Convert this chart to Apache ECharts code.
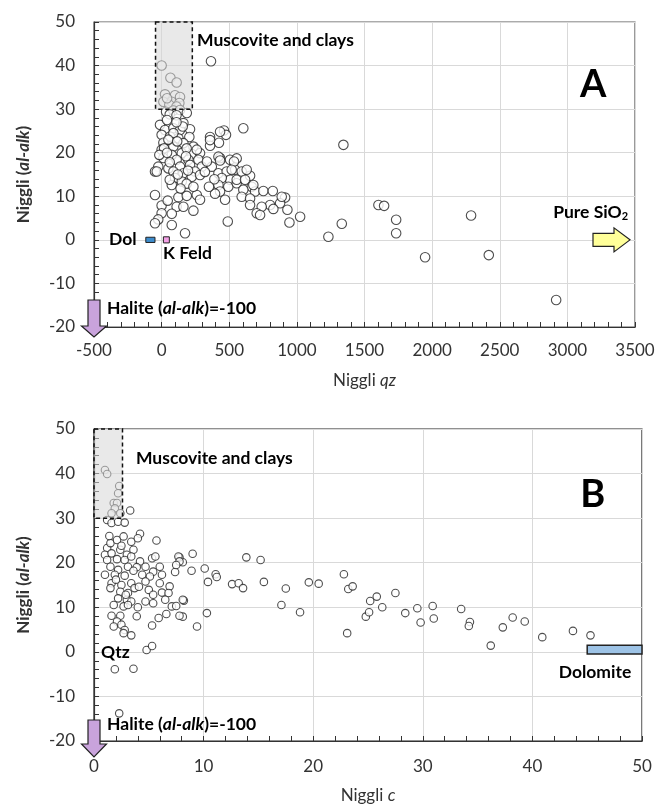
<!DOCTYPE html>
<html>
<head>
<meta charset="utf-8">
<script src="https://cdn.jsdelivr.net/npm/echarts@6/dist/echarts.min.js"></script>
<style>html,body{margin:0;padding:0;background:#fff}#c{width:658px;height:810px}</style>
</head>
<body>
<div id="c"></div>
<script>
// ---------- DATA ----------
// Panel A: Niggli qz vs Niggli (al-alk)
const pointsA = [
[1344,21.8],[1603,8.0],[1645,7.8],[1734,4.6],[1734,1.5],[1948,-4.0],[2288,5.6],[2419,-3.5],[2917,-13.8],[1332,3.7],[1233,0.7],
[365,41.0],[0,40.0],[65,37.2],[111,36.1],
[25,33.4],[99,33.2],[136,32.8],[13,31.7],[75,31.7],[131,31.4],[57,31.0],[40,32.5],[110,30.6],
[33,29.4],[87,29.7],[136,29.8],[186,29.1],[60,28.8],[110,28.6],
[-12,26.4],[25,25.2],[87,25.6],[136,25.2],[161,26.8],[210,25.4],[0,24.1],[62,23.7],[124,23.3],[205,23.6],[156,26.0],[87,24.5],
[358,23.6],[461,25.1],[424,22.3],[358,21.6],[604,25.6],[358,22.9],[476,24.1],[432,24.8],
[13,22.3],[87,21.4],[161,22.2],[235,21.4],[0,20.7],[75,19.5],[149,19.9],[223,19.7],[284,19.9],[13,18.8],[111,18.4],[198,18.4],[272,18.4],[432,18.8],[506,18.4],[18,21.0],[-17,19.5],[260,20.7],
[-25,16.8],[50,16.4],[136,16.8],[210,17.2],[297,16.8],[371,16.8],[-49,15.7],[87,15.7],[161,15.3],[247,15.7],[420,15.3],[481,15.7],[543,16.1],[506,13.8],[445,14.2],[223,14.5],[284,14.9],[99,14.2],[-36,15.7],[420,19.1],[432,18.2],
[75,12.6],[149,13.4],[420,12.6],[493,12.2],[555,13.0],[432,11.1],[-49,10.3],[124,9.8],[186,10.1],[260,10.3],[469,9.2],[284,9.2],
[0,7.9],[111,7.6],[161,7.6],[235,6.7],[75,6.0],[0,6.1],[-25,4.7],[-49,3.8],[489,4.2],[75,3.4],[173,1.5],
[555,18.7],[535,18.0],[518,16.1],[592,15.7],[654,14.7],[555,13.8],[617,13.8],[666,12.2],[604,11.5],[691,11.1],[752,11.2],[822,11.2],[592,9.9],[654,9.5],[913,9.7],[876,8.4],[802,8.0],[740,7.6],[654,8.0],[826,7.1],[930,6.9],[703,6.1],[728,5.7],[1024,5.3],[945,4.0],[888,9.9],[629,16.1],[678,12.6],
[40,27.5],[110,27.0],[50,23.0],[115,22.6],[185,21.0],[40,20.0],[180,19.2],[60,17.8],[120,15.0],[195,15.9],[60,13.8],[185,12.9],[235,12.2],[320,15.6],[335,18.0],[390,13.9],[395,10.6],[350,12.2],[45,9.0],[140,11.8]
];
// Panel B: Niggli c vs Niggli (al-alk)
const pointsB = [
[22.8,17.4],[23.2,14.1],[23.6,14.7],[19.6,15.6],[20.5,15.3],[17.5,14.2],[17.1,10.5],[18.8,8.9],[23.1,4.2],[24.8,7.9],[25.1,8.9],[25.2,11.4],[25.8,12.4],[26.3,10.0],[27.5,13.2],[28.4,8.7],[29.5,9.8],[29.8,6.6],[30.9,10.3],[31.0,7.5],[33.5,9.6],[34.3,6.7],[34.2,5.8],[36.2,1.4],[37.3,5.5],[38.2,7.7],[39.3,6.8],[40.9,3.3],[43.7,4.7],[45.3,3.7],
[9.0,22.0],[8.1,20.1],[7.8,21.2],[8.9,18.2],[10.1,18.7],[10.4,15.7],[11.1,17.4],[11.2,16.8],[13.9,21.2],[15.2,20.6],[12.6,15.2],[13.2,15.4],[13.6,14.3],[15.5,15.7],[8.2,11.5],[8.1,7.9],[10.3,8.7],[9.4,5.7],
[1.0,40.8],[1.2,39.9],[2.3,37.2],[2.2,35.6],[1.8,33.4],[2.1,33.4],[1.9,32.2],[1.6,31.1],[2.4,31.1],[3.3,31.7],[1.2,29.6],[1.6,28.9],[2.2,29.2],[2.8,29.0],
[1.2,23.3],[1.5,24.4],[2.1,25.1],[2.7,25.9],[3.4,24.7],[4.2,26.5],[4.0,25.5],[5.7,25.0],
[1.0,21.8],[1.6,22.1],[2.4,22.9],[3.0,21.8],[3.6,22.9],[1.2,20.6],[2.1,20.8],[2.8,20.6],[3.4,21.4],[4.2,20.3],[5.3,21.0],[5.6,21.4],
[1.5,19.1],[2.2,18.4],[3.1,19.1],[3.9,19.0],[4.7,19.1],[5.4,18.0],[6.0,19.1],[1.0,17.3],[1.9,17.3],[2.8,17.1],[4.4,17.3],[5.1,16.9],[6.2,17.3],[7.4,17.9],[7.7,21.4],[7.8,20.3],[7.5,19.5],
[1.6,15.4],[2.5,15.0],[3.4,15.4],[4.7,15.8],[6.0,15.4],[6.9,14.7],[1.5,14.3],[2.4,13.5],[3.1,13.2],[3.7,14.3],[5.0,13.9],[5.4,12.8],[6.2,13.3],[6.8,13.2],
[2.2,12.0],[3.0,11.7],[3.4,11.3],[4.7,11.3],[6.5,11.7],[1.8,10.5],[2.7,10.2],[3.1,10.5],[5.4,10.9],[7.1,10.2],[7.5,10.3],[8.1,11.7],
[1.6,8.1],[2.4,8.1],[2.1,6.8],[2.5,6.1],[1.8,5.7],[2.8,4.9],[3.4,3.7],[2.7,4.2],[5.9,7.6],[6.6,8.5],[5.3,5.9],[7.8,8.1],[4.8,0.4],[5.3,1.3],[1.9,-3.9],[3.6,-3.8],[2.3,-13.8],
[1.4,26.0],[2.5,23.8],[3.6,18.2],[2.0,16.2],[4.1,14.6],[2.9,12.8],[4.0,10.0],[3.9,8.0]
];
// axis ranges / ticks
const xTicksA = [-500, 3500, 500];
const xTicksB = [0, 50, 10];
const yTicks = [-20, 50, 10];
// reference boxes [x0, y0, x1, y1]
const micaBoxA = [-45, 30, 227, 50];
const dolBoxA = [-117, -0.6, -49, 0.6];
const kfeldBoxA = [13, -0.7, 57, 0.7];
const micaBoxB = [0, 30, 2.6, 50];
const dolomiteBoxB = [45, -0.5, 50, 1.5];
// annotation anchors [x, y]
const labelsA = [
  {t:'{b|Muscovite and clays}', p:[262, 45.9]},
  {t:'{big|A}', p:[3191, 35.7], align:'center'},
  {t:'{b|Dol}', p:[-389, 0]},
  {t:'{b|K Feld}', p:[10, -3.2]},
  {t:'{b|Halite (}{bi|al-alk}{b|)=-100}', p:[-404, -15.8]},
  {t:'{b|Pure SiO}{sub|2}', p:[2895, 6.4]}
];
const labelsB = [
  {t:'{b|Muscovite and clays}', p:[3.83, 43.5]},
  {t:'{big|B}', p:[45.5, 35.2], align:'center'},
  {t:'{b|Qtz}', p:[0.64, -0.2]},
  {t:'{b|Dolomite}', p:[42.4, -4.7]},
  {t:'{b|Halite (}{bi|al-alk}{b|)=-100}', p:[1.19, -16.2]}
];
// ---------- CHART ----------
const FONT = 'Lato';
const rich = {
  b:{fontFamily:FONT, fontWeight:'bold', fontSize:17.5, color:'#111'},
  bi:{fontFamily:FONT, fontWeight:'bold', fontStyle:'italic', fontSize:17.5, color:'#111'},
  sub:{fontFamily:FONT, fontWeight:'bold', fontSize:11, color:'#111', verticalAlign:'bottom', padding:[9,0,0,0]},
  big:{fontFamily:FONT, fontWeight:'bold', fontSize:38, color:'#000'}
};
const chart = echarts.init(document.getElementById('c'), null, {renderer:'canvas'});

function boxSeries(idx, box, fill, stroke, dash, z, lw){
  return {type:'custom', xAxisIndex:idx, yAxisIndex:idx, z:z, silent:true, data:[box],
    renderItem:function(p, api){
      const a = api.coord([api.value(0), api.value(1)]);
      const b = api.coord([api.value(2), api.value(3)]);
      return {type:'rect', shape:{x:Math.min(a[0],b[0]), y:Math.min(a[1],b[1]), width:Math.abs(a[0]-b[0]), height:Math.abs(a[1]-b[1])},
        style:{fill:fill, stroke:stroke, lineWidth:lw||1.5, lineDash:dash||null}};
    }};
}
function labelSeries(idx, labels){
  return {type:'custom', xAxisIndex:idx, yAxisIndex:idx, z:20, silent:true, clip:false,
    data:labels.map(l=>l.p),
    renderItem:function(p, api){
      const c = api.coord([api.value(0), api.value(1)]);
      const l = labels[p.dataIndex];
      return {type:'text', x:c[0], y:c[1], style:{text:l.t, rich:rich, align:l.align||'left', verticalAlign:'middle'}};
    }};
}
// down arrow (Halite) anchored at a data point, sizes in px
function downArrow(idx, anchor, top, headStart, tip){
  return {type:'custom', xAxisIndex:idx, yAxisIndex:idx, z:15, silent:true, clip:false, data:[anchor],
    renderItem:function(p, api){
      const c = api.coord([api.value(0), api.value(1)]);
      const x = c[0], y = c[1];
      return {type:'polygon', shape:{points:[[x-6,y+top],[x+6,y+top],[x+6,y+headStart],[x+12.5,y+headStart],[x,y+tip],[x-12.5,y+headStart],[x-6,y+headStart]]},
        style:{fill:'#c9a3dc', stroke:'#222', lineWidth:1.2}};
    }};
}
function rightArrow(idx, anchor){
  return {type:'custom', xAxisIndex:idx, yAxisIndex:idx, z:15, silent:true, clip:false, data:[anchor],
    renderItem:function(p, api){
      const c = api.coord([api.value(0), api.value(1)]);
      const x = c[0], y = c[1];
      return {type:'polygon', shape:{points:[[x-42,y-6.5],[x-21,y-6.5],[x-21,y-12],[x-5,y],[x-21,y+12],[x-21,y+6.5],[x-42,y+6.5]]},
        style:{fill:'#ffff99', stroke:'#222', lineWidth:1.2}};
    }};
}
function xAxisCfg(idx, t, nameRich, gap, lm){
  return {gridIndex:idx, type:'value', min:t[0], max:t[1], interval:t[2],
    name:nameRich, nameLocation:'middle', nameGap:gap,
    nameTextStyle:{rich:{n:{fontFamily:FONT, fontSize:17, color:'#333'}, i:{fontFamily:FONT, fontSize:17, fontStyle:'italic', color:'#333'}}},
    axisLine:{onZero:false, lineStyle:{color:'#333', width:1.2}},
    axisTick:{inside:true, length:5, lineStyle:{color:'#333'}},
    minorTick:{show:true, splitNumber:5, length:5, lineStyle:{color:'#333'}},
    splitLine:{show:true, lineStyle:{color:'#d9d9d9', width:1}},
    axisLabel:{fontFamily:FONT, fontSize:17, color:'#333', margin:lm, formatter:function(v){return String(v);}}};
}
function yAxisCfg(idx){
  return {gridIndex:idx, type:'value', min:yTicks[0], max:yTicks[1], interval:yTicks[2],
    name:'{n|Niggli (}{i|al-alk}{n|)}', nameLocation:'middle', nameGap:62, nameRotate:90,
    nameTextStyle:{rich:{n:{fontFamily:FONT, fontSize:17, fontWeight:'bold', color:'#333'}, i:{fontFamily:FONT, fontSize:17, fontWeight:'bold', fontStyle:'italic', color:'#333'}}},
    axisLine:{onZero:false, lineStyle:{color:'#333', width:1.2}},
    axisTick:{inside:true, length:5, lineStyle:{color:'#333'}},
    minorTick:{show:true, splitNumber:5, length:5, lineStyle:{color:'#333'}},
    splitLine:{show:true, lineStyle:{color:'#d9d9d9', width:1}},
    axisLabel:{fontFamily:FONT, fontSize:17, color:'#333', margin:19, formatter:function(v){return String(v);}}};
}
chart.setOption({
  animation:false,
  backgroundColor:'#fff',
  grid:[
    {left:94, top:22, width:541, height:305, show:true, borderColor:'#595959', borderWidth:1.2, backgroundColor:'transparent'},
    {left:94, top:429, width:548, height:312, show:true, borderColor:'#222', borderWidth:1.2, backgroundColor:'transparent'}
  ],
  xAxis:[
    xAxisCfg(0, xTicksA, '{n|Niggli }{i|qz}', 45, 15),
    xAxisCfg(1, xTicksB, '{n|Niggli }{i|c}', 46, 17)
  ],
  yAxis:[yAxisCfg(0), yAxisCfg(1)],
  series:[
    {type:'scatter', xAxisIndex:0, yAxisIndex:0, z:5, symbol:'circle', symbolSize:9.5, data:pointsA,
      itemStyle:{color:'#fff', borderColor:'#222', borderWidth:1.1}},
    {type:'scatter', xAxisIndex:1, yAxisIndex:1, z:5, symbol:'circle', symbolSize:7.5, data:pointsB,
      itemStyle:{color:'#fff', borderColor:'#222', borderWidth:1.1}},
    boxSeries(0, micaBoxA, 'rgba(215,215,215,0.55)', '#111', [4,3], 8, 1.5),
    boxSeries(0, dolBoxA, '#3d8ccc', '#222', null, 9, 1),
    boxSeries(0, kfeldBoxA, '#f4a0e6', '#222', null, 9, 1),
    boxSeries(1, micaBoxB, 'rgba(215,215,215,0.55)', '#111', [4,3], 8, 1.5),
    boxSeries(1, dolomiteBoxB, '#9dc3e6', '#222', null, 9, 1.5),
    labelSeries(0, labelsA),
    labelSeries(1, labelsB),
    downArrow(0, [-500, -20], -27, -1, 10),
    downArrow(1, [0, -20], -21, 3, 16),
    rightArrow(0, [3500, 0])
  ]
});
</script>
</body>
</html>
